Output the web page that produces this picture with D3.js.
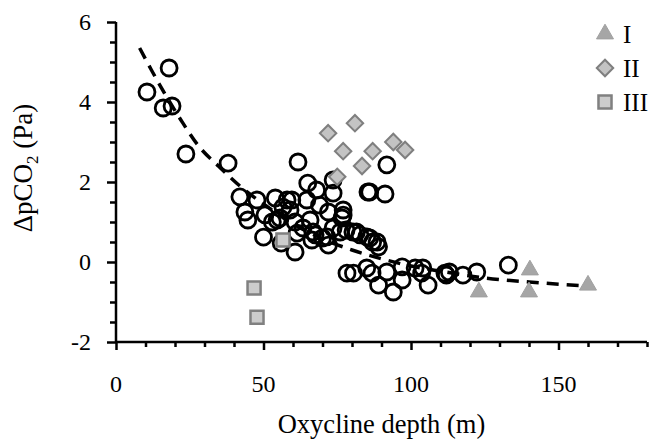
<!DOCTYPE html>
<html>
<head>
<meta charset="utf-8">
<script src="https://cdn.jsdelivr.net/npm/d3@7"></script>
<style>
	body { margin: 0; background: #fff; }
	svg text { font-family: "Liberation Serif", "Times New Roman", serif; fill: #000; }
</style>
</head>
<body>
<div id="chart"></div>
<script>
// open circles (oxycline depth m, dpCO2 Pa)
var circleX = [10.5, 18, 16, 19, 23.7, 38, 42, 47.8, 54, 58, 59.6, 64.7, 43.7, 44.7, 50.5, 53, 55.6, 50, 61.7,
	65, 68, 73.6, 73.6, 86, 85.4, 91.2, 91.8, 56.6, 59, 69, 72, 77, 76.6, 77, 54.6, 60.7, 65.8, 63.4, 61.4,
	66.8, 73.6, 76, 80.3, 82.7, 86, 88.5, 70, 72, 66.4, 60.7, 67.5, 71.5, 56, 78, 81.5, 85, 87, 89, 78.3, 80.5,
	85, 86.8, 89, 91.8, 97, 97, 94, 101.4, 104, 103.6, 105.8, 111.5, 113, 112, 117.6, 122.3, 133];
var circleY = [4.25, 4.85, 3.85, 3.9, 2.7, 2.47, 1.63, 1.55, 1.6, 1.55, 1.55, 1.55, 1.25, 1.05, 1.18, 1.0, 1.1, 0.62, 2.5,
	1.97, 1.8, 1.72, 2.05, 1.75, 1.75, 1.7, 2.43, 1.37, 1.3, 1.42, 1.25, 1.3, 1.1, 1.17, 1.05, 1.0, 1.05, 0.85, 0.72,
	0.75, 0.85, 0.75, 0.75, 0.68, 0.6, 0.5, 0.6, 0.42, 0.55, 0.25, 0.68, 0.63, 0.47, 0.8, 0.75, 0.63, 0.5, 0.38, -0.28, -0.28,
	-0.15, -0.28, -0.58, -0.25, -0.12, -0.45, -0.75, -0.15, -0.15, -0.28, -0.58, -0.28, -0.25, -0.33, -0.33, -0.25, -0.08];

// group I (triangles)
var groupIX = [123, 140.3, 140, 160];
var groupIY = [-0.75, -0.2, -0.75, -0.58];
// group II (diamonds)
var groupIIX = [71.9, 81, 77, 87, 94, 98, 83.4, 75];
var groupIIY = [3.22, 3.47, 2.77, 2.77, 3.0, 2.8, 2.4, 2.13];
// group III (squares)
var groupIIIX = [56.6, 46.8, 47.8];
var groupIIIY = [0.55, -0.65, -1.38];

// dashed trend
var trendX = [8, 12, 17, 22, 28, 35, 42, 50, 60, 70, 80, 90, 100, 110, 125, 140, 160];
var trendY = [5.35, 4.8, 4.15, 3.55, 2.9, 2.38, 1.9, 1.45, 0.95, 0.58, 0.3, 0.08, -0.1, -0.23, -0.4, -0.5, -0.6];

var xTicks = [0, 50, 100, 150];
var yTicks = [-2, 0, 2, 4, 6];
var legendLabels = ['I', 'II', 'III'];

// layout
//- - - - - - - - - - - - - - - - - - - - - -
var width = 650, height = 442;
var plotLeft = 116, plotRight = 647, plotTop = 22, plotBottom = 342;

var svg = d3.select('#chart').append('svg')
	.attr('width', width)
	.attr('height', height);

var x = d3.scaleLinear().domain([0, 180]).range([plotLeft, plotRight]);
var y = d3.scaleLinear().domain([-2, 6]).range([plotBottom, plotTop]);

// x axis: major ticks every 50, minor every 10
//- - - - - - - - - - - - - - - - - - - - - -
var xAxis = svg.append('g').attr('transform', 'translate(0,' + plotBottom + ')');
xAxis.call(d3.axisBottom(x).tickValues(d3.range(0, 181, 10)).tickSize(5).tickFormat(''));
xAxis.selectAll('.tick').filter(function(d) { return d % 50 === 0; })
	.select('line').attr('y2', 8);
xAxis.select('.domain').attr('d', 'M' + plotLeft + ',0H' + plotRight);
xAxis.selectAll('line, path').attr('stroke', '#000').attr('stroke-width', 2.5);

svg.selectAll('.xlab').data(xTicks).enter().append('text')
	.attr('class', 'xlab')
	.attr('x', function(d) { return x(d); })
	.attr('y', 392)
	.attr('text-anchor', 'middle')
	.style('font-size', '24px')
	.text(function(d) { return d; });

// y axis: major every 2, minor every 0.5
//- - - - - - - - - - - - - - - - - - - - - -
var yAxis = svg.append('g').attr('transform', 'translate(' + plotLeft + ',0)');
yAxis.call(d3.axisLeft(y).tickValues(d3.range(-2, 6.01, 0.5)).tickSize(6).tickFormat(''));
yAxis.selectAll('.tick').filter(function(d) { return d % 2 === 0; })
	.select('line').attr('x2', -9);
yAxis.select('.domain').attr('d', 'M0,' + plotTop + 'V' + (plotBottom + 1));
yAxis.selectAll('line, path').attr('stroke', '#000').attr('stroke-width', 2.5);

svg.selectAll('.ylab').data(yTicks).enter().append('text')
	.attr('class', 'ylab')
	.attr('x', 91)
	.attr('y', function(d) { return y(d); })
	.attr('dy', '0.35em')
	.attr('text-anchor', 'end')
	.style('font-size', '24px')
	.text(function(d) { return d; });

// axis titles
svg.append('text')
	.attr('x', (plotLeft + plotRight) / 2)
	.attr('y', 433)
	.attr('text-anchor', 'middle')
	.style('font-size', '26.5px')
	.text('Oxycline depth (m)');

var yTitle = svg.append('text')
	.attr('transform', 'translate(32,168) rotate(-90)')
	.attr('text-anchor', 'middle')
	.style('font-size', '27px');
yTitle.append('tspan').text('ΔpCO');
yTitle.append('tspan').attr('dy', 6).style('font-size', '17px').text('2');
yTitle.append('tspan').attr('dy', -6).text(' (Pa)');

// trend line
//- - - - - - - - - - - - - - - - - - - - - -
var line = d3.line()
	.x(function(d) { return x(d[0]); })
	.y(function(d) { return y(d[1]); })
	.curve(d3.curveMonotoneX);

svg.append('path')
	.datum(d3.zip(trendX, trendY))
	.attr('d', line)
	.attr('fill', 'none')
	.attr('stroke', '#000')
	.attr('stroke-width', 3.5)
	.attr('stroke-dasharray', '12,8');

// open circles
svg.append('g').selectAll('circle')
	.data(d3.zip(circleX, circleY))
	.enter().append('circle')
	.attr('cx', function(d) { return x(d[0]); })
	.attr('cy', function(d) { return y(d[1]); })
	.attr('r', 8)
	.attr('fill', 'none')
	.attr('stroke', '#000')
	.attr('stroke-width', 2.8);

// group symbols
//- - - - - - - - - - - - - - - - - - - - - -
var styles = [
	{ type: d3.symbolTriangle, size: 125, rot: 0, fill: '#a6a6a6', stroke: '#a0a0a0', sw: 1 },
	{ type: d3.symbolSquare, size: 135, rot: 45, fill: '#c3c3c3', stroke: '#7f7f7f', sw: 2 },
	{ type: d3.symbolSquare, size: 170, rot: 0, fill: '#cccccc', stroke: '#808080', sw: 2.5 }
];
var groups = [d3.zip(groupIX, groupIY), d3.zip(groupIIX, groupIIY), d3.zip(groupIIIX, groupIIIY)];

var drawSymbols = function(pts, st) {
	svg.append('g').selectAll('path')
		.data(pts)
		.enter().append('path')
		.attr('d', d3.symbol().type(st.type).size(st.size))
		.attr('transform', function(d) {
			return 'translate(' + x(d[0]) + ',' + y(d[1]) + ') rotate(' + st.rot + ')';
		})
		.attr('fill', st.fill)
		.attr('stroke', st.stroke)
		.attr('stroke-width', st.sw);
};
groups.forEach(function(g, i) { drawSymbols(g, styles[i]); });

// legend
var legend = svg.append('g');
legendLabels.forEach(function(lab, i) {
	var st = styles[i], ly = 34 + i * 34;
	legend.append('path')
		.attr('d', d3.symbol().type(st.type).size(st.size))
		.attr('transform', 'translate(605,' + ly + ') rotate(' + st.rot + ')')
		.attr('fill', st.fill)
		.attr('stroke', st.stroke)
		.attr('stroke-width', st.sw);
	legend.append('text')
		.attr('x', 623)
		.attr('y', ly)
		.attr('dy', '0.35em')
		.style('font-size', '25px')
		.text(lab);
});
</script>
</body>
</html>
